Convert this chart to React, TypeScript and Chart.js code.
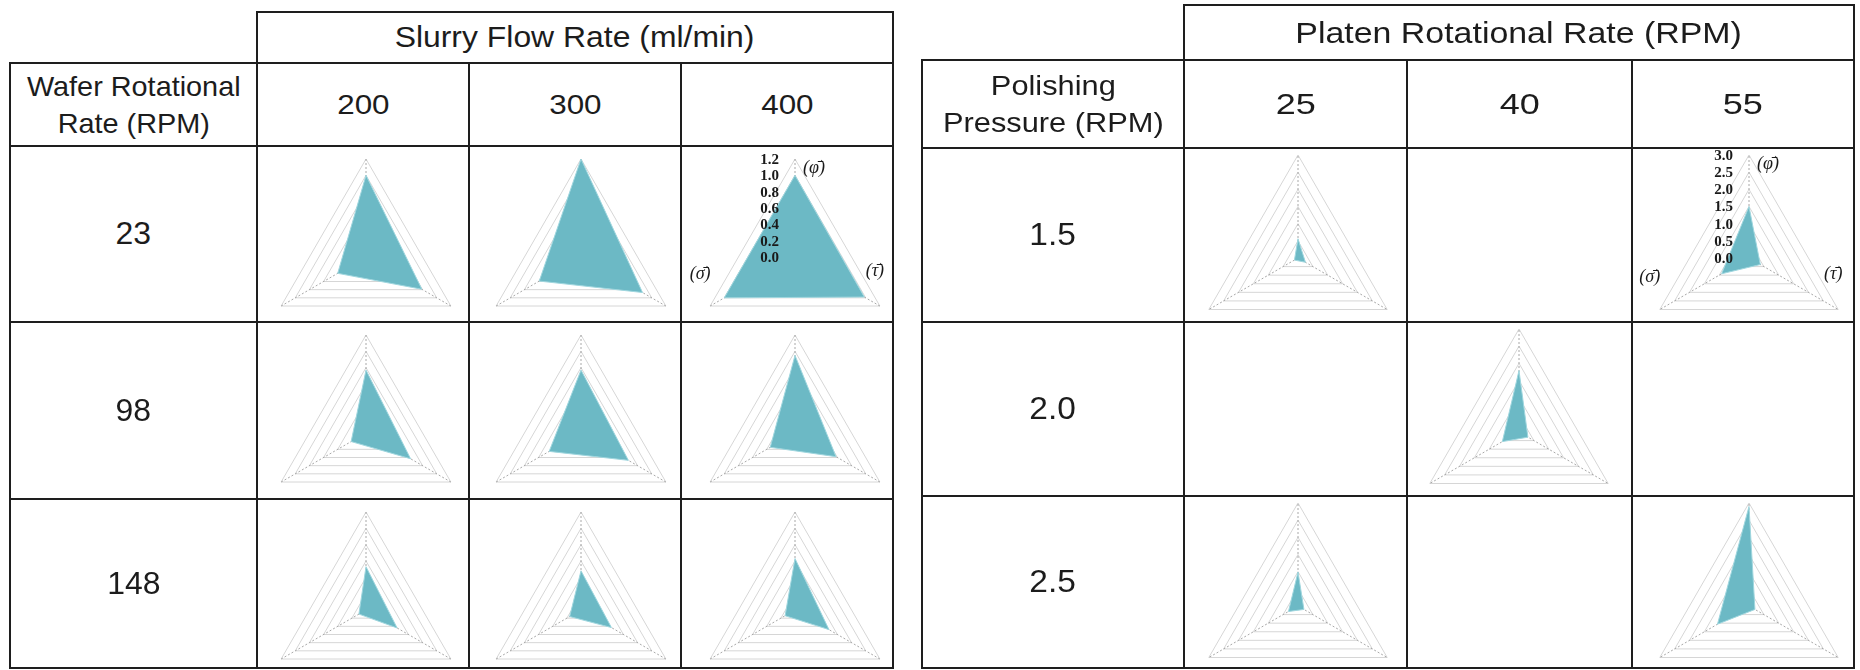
import React, { useEffect, useRef } from 'react';
import { Chart, registerables } from 'chart.js';

Chart.register(...registerables);

// ---------- data ----------
const slurryFlowRates = ['200', '300', '400'];
const waferRates = ['23', '98', '148'];
const platenRates = ['25', '40', '55'];
const pressures = ['1.5', '2.0', '2.5'];
const axisLabels = ['(φ̄)', '(τ̄)', '(σ̄)'];

// left table values, rows = wafer rate, cols = slurry flow rate
const leftPhi = [
  [1.0, 1.2, 1.0],
  [0.77, 0.77, 0.95],
  [0.53, 0.48, 0.63],
];
const leftTau = [
  [0.79, 0.87, 0.98],
  [0.63, 0.67, 0.58],
  [0.44, 0.43, 0.48],
];
const leftSigma = [
  [0.4, 0.59, 1.0],
  [0.21, 0.45, 0.35],
  [0.1, 0.16, 0.14],
];

// right table values, rows = pressure, cols = platen rate (null = no experiment)
const rightPhi = [
  [0.56, null, 1.5],
  [null, 1.79, null],
  [0.99, null, 2.9],
];
const rightTau = [
  [0.25, null, 0.38],
  [null, 0.3, null],
  [0.2, null, 0.2],
];
const rightSigma = [
  [0.12, null, 0.92],
  [null, 0.56, null],
  [0.32, null, 1.06],
];

const leftScale = { max: 1.2, step: 0.2 };
const rightScale = { max: 3.0, step: 0.5 };

// ---------- layout ----------
const SANS = "'Liberation Sans', Arial, sans-serif";
const SERIF = "'Liberation Serif', 'Times New Roman', serif";
const FILL = '#6cb9c5';
const EDGE = '#9fd6de';
const LINE = '#1e1e1e';

const leftCols = [10, 257, 469, 681, 893];
const leftRows = [63, 146, 322, 499, 668];
const leftHeaderTop = 12;
const rightCols = [922, 1184, 1407, 1632, 1854];
const rightRows = [60, 148, 322, 496, 668];
const rightHeaderTop = 5;

const labelOffsets: [number, number][] = [
  [19, 9],
  [-5, -35],
  [-10, -32],
];

type RadarProps = {
  values: number[];
  max: number;
  step: number;
  r: number;
  cx: number;
  cy: number;
  labeled: boolean;
};

function Radar({ values, max, step, r, cx, cy, labeled }: RadarProps) {
  const ref = useRef<HTMLCanvasElement>(null);
  const PAD = 14;
  const W = 2 * r + 90;
  const H = 2 * r + 2 * PAD;
  useEffect(() => {
    if (!ref.current) return;
    const labelPlugin = {
      id: 'cellLabels',
      afterDraw(chart: any) {
        if (!labeled) return;
        const s = chart.scales.r;
        const ctx = chart.ctx;
        ctx.save();
        ctx.fillStyle = '#1a1a1a';
        ctx.font = `bold 15px ${SERIF}`;
        ctx.textAlign = 'right';
        ctx.textBaseline = 'middle';
        s.ticks.forEach((t: any) => {
          const d = s.getDistanceFromCenterForValue(t.value);
          ctx.fillText(Number(t.value).toFixed(1), s.xCenter - 16, s.yCenter - d + 1);
        });
        ctx.font = `italic 18px ${SERIF}`;
        ctx.textAlign = 'center';
        axisLabels.forEach((lab, i) => {
          const p = s.getPointPosition(i, s.drawingArea);
          ctx.fillText(lab, p.x + labelOffsets[i][0], p.y + labelOffsets[i][1]);
        });
        ctx.restore();
      },
    };
    const chart = new Chart(ref.current, {
      type: 'radar',
      data: {
        labels: axisLabels,
        datasets: [
          {
            data: values,
            backgroundColor: FILL,
            borderColor: EDGE,
            borderWidth: 1,
            pointRadius: 0,
            fill: true,
          },
        ],
      },
      options: {
        animation: false,
        responsive: false,
        maintainAspectRatio: false,
        layout: { padding: { top: PAD, bottom: PAD, left: 0, right: 0 } },
        plugins: { legend: { display: false }, tooltip: { enabled: false } },
        scales: {
          r: {
            min: 0,
            max,
            ticks: { stepSize: step, display: false },
            pointLabels: { display: false },
            grid: { color: '#d6d6d6', lineWidth: 1 },
            angleLines: { color: '#a8a8a8', lineWidth: 1, borderDash: [2, 2] },
          },
        },
      },
      plugins: [labelPlugin],
    } as any);
    return () => chart.destroy();
  }, []);
  return (
    <canvas
      ref={ref}
      width={W}
      height={H}
      style={{
        position: 'absolute',
        left: cx - W / 2,
        top: cy - H / 2,
        width: W,
        height: H,
        pointerEvents: 'none',
      }}
    />
  );
}

function Lines({ cols, rows, headerTop }: { cols: number[]; rows: number[]; headerTop: number }) {
  const els: React.ReactNode[] = [];
  const t = 2;
  const last = rows[rows.length - 1];
  els.push(
    <div key="ht" style={{ position: 'absolute', left: cols[1] - 1, top: headerTop - 1, width: cols[4] - cols[1] + t, height: t, background: LINE }} />
  );
  rows.forEach((y, i) => {
    els.push(
      <div key={'h' + i} style={{ position: 'absolute', left: cols[0] - 1, top: y - 1, width: cols[4] - cols[0] + t, height: t, background: LINE }} />
    );
  });
  cols.forEach((x, i) => {
    const top = i === 1 || i === 4 ? headerTop : rows[0];
    els.push(
      <div key={'v' + i} style={{ position: 'absolute', left: x - 1, top: top - 1, width: t, height: last - top + t, background: LINE }} />
    );
  });
  return <>{els}</>;
}

function TextBox({
  x0, x1, y0, y1, size, stretch = 1, lines, lineHeight,
}: {
  x0: number; x1: number; y0: number; y1: number; size: number; stretch?: number; lines: string[]; lineHeight?: number;
}) {
  return (
    <div
      style={{
        position: 'absolute',
        left: x0,
        top: y0,
        width: x1 - x0,
        height: y1 - y0,
        display: 'flex',
        alignItems: 'center',
        justifyContent: 'center',
      }}
    >
      <div
        style={{
          fontFamily: SANS,
          fontSize: size,
          lineHeight: lineHeight ? `${lineHeight}px` : 'normal',
          color: '#1c1c1c',
          textAlign: 'center',
          transform: `scaleX(${stretch})`,
          whiteSpace: 'nowrap',
        }}
      >
        {lines.map((l, i) => (
          <div key={i}>{l}</div>
        ))}
      </div>
    </div>
  );
}

type TableProps = {
  cols: number[];
  rows: number[];
  headerTop: number;
  title: string;
  titleSize: number;
  titleStretch: number;
  corner: string[];
  cornerStretch: number;
  colLabels: string[];
  colSize: number;
  colStretch: number;
  rowLabels: string[];
  rowSize: number;
  rowStretch: number;
  phi: (number | null)[][];
  tau: (number | null)[][];
  sigma: (number | null)[][];
  scale: { max: number; step: number };
  r: number;
  topGap: number;
  xShift: number[];
  labeledCell: [number, number];
};

function RadarTable(p: TableProps) {
  const { cols, rows, headerTop } = p;
  const items: React.ReactNode[] = [];
  items.push(
    <TextBox key="title" x0={cols[1]} x1={cols[4]} y0={headerTop} y1={rows[0]} size={p.titleSize} stretch={p.titleStretch} lines={[p.title]} />
  );
  items.push(
    <TextBox key="corner" x0={cols[0]} x1={cols[1]} y0={rows[0]} y1={rows[1]} size={28} stretch={p.cornerStretch} lines={p.corner} lineHeight={37} />
  );
  p.colLabels.forEach((c, j) => {
    items.push(
      <TextBox key={'c' + j} x0={cols[j + 1]} x1={cols[j + 2]} y0={rows[0]} y1={rows[1]} size={p.colSize} stretch={p.colStretch} lines={[c]} />
    );
  });
  p.rowLabels.forEach((rl, i) => {
    items.push(
      <TextBox key={'r' + i} x0={cols[0]} x1={cols[1]} y0={rows[i + 1]} y1={rows[i + 2]} size={p.rowSize} stretch={p.rowStretch} lines={[rl]} />
    );
    for (let j = 0; j < 3; j++) {
      const a = p.phi[i][j];
      const b = p.tau[i][j];
      const c = p.sigma[i][j];
      if (a === null || b === null || c === null) continue;
      const cx = (cols[j + 1] + cols[j + 2]) / 2 + p.xShift[j];
      const cy = rows[i + 1] + p.topGap + p.r;
      items.push(
        <Radar
          key={`rad${i}-${j}`}
          values={[a, b, c]}
          max={p.scale.max}
          step={p.scale.step}
          r={p.r}
          cx={Math.round(cx)}
          cy={cy}
          labeled={p.labeledCell[0] === i && p.labeledCell[1] === j}
        />
      );
    }
  });
  return (
    <>
      <Lines cols={cols} rows={rows} headerTop={headerTop} />
      {items}
    </>
  );
}

export default function App() {
  return (
    <div
      style={{
        position: 'absolute',
        left: 0,
        top: 0,
        width: 1860,
        height: 670,
        background: '#ffffff',
        overflow: 'hidden',
      }}
    >
      <RadarTable
        cols={leftCols}
        rows={leftRows}
        headerTop={leftHeaderTop}
        title="Slurry Flow Rate (ml/min)"
        titleSize={29}
        titleStretch={1.1}
        corner={['Wafer Rotational', 'Rate (RPM)']}
        cornerStretch={1.03}
        colLabels={slurryFlowRates}
        colSize={28}
        colStretch={1.12}
        rowLabels={waferRates}
        rowSize={31}
        rowStretch={1.03}
        phi={leftPhi}
        tau={leftTau}
        sigma={leftSigma}
        scale={leftScale}
        r={98}
        topGap={13}
        xShift={[3, 6, 8]}
        labeledCell={[0, 2]}
      />
      <RadarTable
        cols={rightCols}
        rows={rightRows}
        headerTop={rightHeaderTop}
        title="Platen Rotational Rate (RPM)"
        titleSize={30}
        titleStretch={1.13}
        corner={['Polishing', 'Pressure (RPM)']}
        cornerStretch={1.1}
        colLabels={platenRates}
        colSize={30}
        colStretch={1.2}
        rowLabels={pressures}
        rowSize={31}
        rowStretch={1.08}
        phi={rightPhi}
        tau={rightTau}
        sigma={rightSigma}
        scale={rightScale}
        r={103}
        topGap={7}
        xShift={[2, -1, 6]}
        labeledCell={[0, 2]}
      />
    </div>
  );
}
